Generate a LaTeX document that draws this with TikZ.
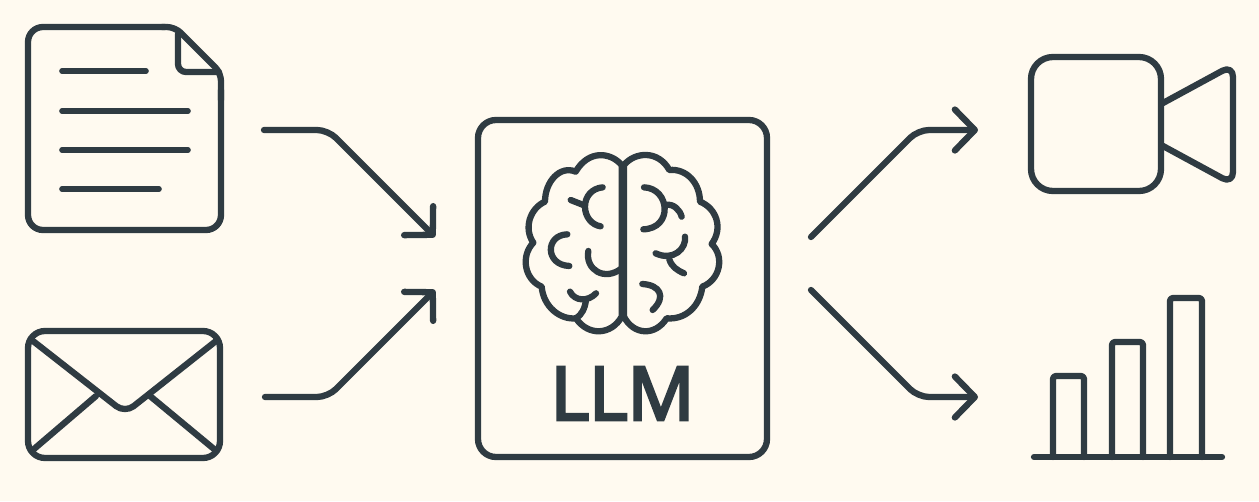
\documentclass[tikz,border=0pt]{standalone}
\usepackage{fontspec}
\usetikzlibrary{arrows.meta}
\newfontfamily\llmfont[FakeBold=4]{Open Sans}
\definecolor{ink}{HTML}{2F3B42}
\definecolor{paper}{HTML}{FFFAF0}
\tikzset{
  icon/.style={draw=ink,line width=6.3pt,line cap=round,line join=round},
  thin icon/.style={icon,line width=5.6pt},
  flow/.style={icon,rounded corners=11pt,-{Straight Barb[length=20pt,width=41pt,line width=6.3pt,round]}},
  boxn/.style={draw=ink,line width=6.3pt,inner sep=0pt,outer sep=0pt,anchor=north west},
}
\begin{document}
\begin{tikzpicture}[x=1pt,y=-1pt]
\useasboundingbox (0,0) rectangle (1259,501);
\fill[paper] (0,0) rectangle (1259,501);

% document
\draw[icon,rounded corners=15pt] (165,27) -- (28,27) -- (28,230) -- (221,230) -- (221,90);
\draw[icon,rounded corners=8pt] (162,27) -- (175,27) -- (221,73) -- (221,100);
\draw[icon,rounded corners=8pt] (178,34) -- (178,72) -- (219,72);
\foreach \yy/\xx in {71/146,111/188,150/188,189/159}
  \draw[thin icon] (62,\yy) -- (\xx,\yy);

% envelope
\draw[icon,rounded corners=17pt] (28,331) rectangle (220,458);
\draw[icon,rounded corners=11pt] (33,341) -- (125,413) -- (216,341);
\draw[icon] (96,396) -- (34,449);
\draw[icon] (150,396) -- (214,449);

% LLM box
\node[boxn,rounded corners=18pt,minimum width=289pt,minimum height=337pt] (llm) at (478,120) {};
\node[text=ink,inner sep=0pt,anchor=base] (llmtext) at (622.5,420) {\llmfont\fontsize{74}{74}\selectfont LLM};

% brain
\begin{scope}[shift={(510,140)},x=0.3333pt,y=-0.3333pt]
\draw[icon] (335,530) -- (335,75)
  .. controls (300,35) and (235,30) .. (197,95)
  .. controls (150,75) and (105,125) .. (105,185)
  .. controls (60,205) and (40,265) .. (70,308)
  .. controls (30,350) and (45,420) .. (95,440)
  .. controls (100,500) and (150,540) .. (198,535)
  .. controls (235,590) and (305,585) .. (335,530);
\draw[icon] (342,530) -- (342,75)
  .. controls (375,35) and (445,30) .. (478,90)
  .. controls (530,85) and (570,130) .. (570,185)
  .. controls (620,205) and (640,265) .. (605,312)
  .. controls (645,350) and (630,420) .. (577,440)
  .. controls (570,500) and (525,540) .. (470,535)
  .. controls (435,590) and (370,585) .. (342,530);
\draw[icon] (278,142) .. controls (245,145) and (225,170) .. (225,200) .. controls (225,230) and (245,255) .. (272,259);
\draw[icon] (182,180) -- (225,197);
\draw[icon] (172,283) .. controls (105,285) and (105,375) .. (178,378);
\draw[icon] (235,333) .. controls (225,390) and (285,425) .. (335,385);
\draw[icon] (180,455) .. controls (195,485) and (235,485) .. (258,460);
\draw[icon] (228,480) .. controls (225,505) and (215,525) .. (198,535);
\draw[icon] (402,142) .. controls (480,145) and (490,265) .. (400,268);
\draw[icon] (468,195) .. controls (490,190) and (510,210) .. (515,230);
\draw[icon] (525,290) .. controls (530,325) and (490,365) .. (437,340);
\draw[icon] (478,358) .. controls (485,380) and (500,390) .. (522,400);
\draw[icon] (397,432) .. controls (450,435) and (470,470) .. (428,510);
\end{scope}

% video
\draw[icon,rounded corners=22pt] (1031,57) rectangle (1161,191);
\draw[icon,rounded corners=12pt] (1163,103) -- (1233,65) -- (1233,184) -- (1163,146);

% chart
\draw[icon,rounded corners=3pt] (1053,457) -- (1053,376) -- (1084,376) -- (1084,457);
\draw[icon,rounded corners=3pt] (1112,457) -- (1112,342) -- (1143,342) -- (1143,457);
\draw[icon,rounded corners=3pt] (1170,457) -- (1170,298) -- (1202,298) -- (1202,457);
\draw[icon] (1034,457) -- (1222,457);

% arrows
\coordinate (a1s) at (264,130); \coordinate (a1e) at (435,237);
\coordinate (a2s) at (265,397); \coordinate (a2e) at (435,290);
\coordinate (a3s) at (811,237); \coordinate (a3e) at (978,130);
\coordinate (a4s) at (811,290); \coordinate (a4e) at (978,397);
\draw[flow] (a1s) -- (328,130) -- (a1e);
\draw[flow] (a2s) -- (328,397) -- (a2e);
\draw[flow] (a3s) -- (918,130) -- (a3e);
\draw[flow] (a4s) -- (918,397) -- (a4e);
\end{tikzpicture}
\end{document}
